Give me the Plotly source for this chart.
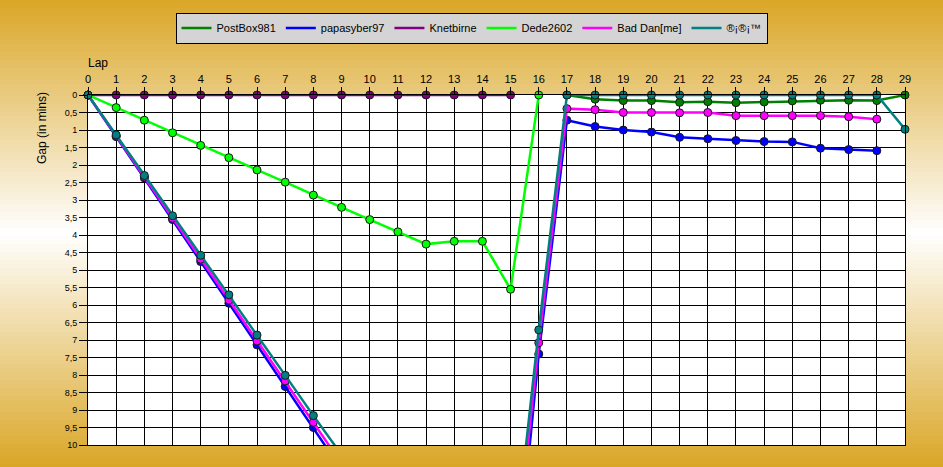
import plotly.graph_objects as go

laps = list(range(0, 30))

postbox981 = [None]*17 + [0, 0.12, 0.16, 0.16, 0.21, 0.19, 0.22, 0.20, 0.17, 0.15, 0.15, 0.16, 0]
papasyber97 = [0, 1.19, 2.37, 3.56, 4.76, 5.95, 7.14, 8.33, 9.50, 10.7, 11.9, 12.9, 13.7, 14.4, 15.0, 15.5, 7.40,
               0.72, 0.90, 1.00, 1.06, 1.21, 1.25, 1.30, 1.33, 1.34, 1.52, 1.56, 1.59, None]
knetbirne = [0]*16 + [None]*14
dede2602 = [0, 0.36, 0.72, 1.08, 1.44, 1.79, 2.14, 2.49, 2.86, 3.21, 3.56, 3.91, 4.26, 4.18, 4.18, 5.55, 0] + [None]*13
baddan = [0, 1.17, 2.34, 3.52, 4.69, 5.86, 7.03, 8.17, 9.35, 10.52, 11.7, 12.5, 13.1, 13.6, 14.1, 14.6, 7.08,
          0.39, 0.42, 0.50, 0.50, 0.51, 0.50, 0.59, 0.59, 0.59, 0.59, 0.62, 0.69, None]
teal_series = [0, 1.14, 2.30, 3.45, 4.58, 5.71, 6.86, 8.01, 9.16, 10.3, 11.4, 12.3, 12.9, 13.4, 13.7, 14.0, 6.71,
               0, 0, 0, 0, 0, 0, 0, 0, 0, 0, 0, 0, 0.98]

series = [
    ("PostBox981", postbox981, "#008000"),
    ("papasyber97", papasyber97, "#0000FF"),
    ("Knetbirne", knetbirne, "#800080"),
    ("Dede2602", dede2602, "#00FF00"),
    ("Bad Dan[me]", baddan, "#FF00FF"),
    ("®¡®¡™", teal_series, "#008080"),
]

FONT = "Liberation Sans, Arial, sans-serif"

fig = go.Figure()
for name, vals, col in series:
    fig.add_trace(go.Scatter(
        x=laps, y=vals, mode="lines+markers", name=name, showlegend=False,
        line=dict(color=col, width=2.5),
        marker=dict(size=8, color=col, line=dict(color="#1a1a1a", width=1)),
        cliponaxis=False, connectgaps=False,
    ))
for name, vals, col in series:
    fig.add_trace(go.Scatter(
        x=[None], y=[None], mode="lines", name=name, showlegend=True,
        line=dict(color=col, width=2.5),
    ))

# geometry in pixels
W, H = 943, 467
L, R, T, B = 88, 38, 95, 22
pw, ph = W - L - R, H - T - B

def px_to_xp(px):
    return (px - L) / pw

def py_to_yp(py):
    return (H - B - py) / ph

gold = (218, 166, 38)
shapes = []
step = 4
for row in range(0, H, step):
    t = (row + step / 2) / H
    w = max(0.0, 1 - abs(t - 0.5) * 2)
    c = tuple(int(round(g * (1 - w) + 255 * w)) for g in gold)
    shapes.append(dict(
        type="rect", xref="paper", yref="paper", layer="below",
        x0=px_to_xp(-2), x1=px_to_xp(W + 2),
        y0=py_to_yp(row + step + 1), y1=py_to_yp(row),
        fillcolor="rgb(%d,%d,%d)" % c, line=dict(width=0),
    ))
shapes.append(dict(type="rect", xref="x", yref="y", layer="below",
                   x0=0, x1=29, y0=0, y1=10, fillcolor="white", line=dict(width=0)))

fig.update_layout(
    width=W, height=H,
    margin=dict(l=L, r=R, t=T, b=B, pad=0),
    paper_bgcolor="rgb(218,166,38)",
    plot_bgcolor="white",
    separators=", ",
    font=dict(family=FONT, color="black"),
    shapes=shapes,
    showlegend=True,
    legend=dict(
        orientation="h", x=px_to_xp(471.5), xanchor="center",
        y=py_to_yp(12.5), yanchor="top",
        bgcolor="#D4D4D4", bordercolor="black", borderwidth=1,
        font=dict(size=11, family=FONT, color="black"),
        itemwidth=30, tracegroupgap=0,
    ),
    annotations=[
        dict(text="Lap", xref="paper", yref="paper", x=px_to_xp(98), y=py_to_yp(63),
             showarrow=False, font=dict(size=12, family=FONT, color="black"),
             xanchor="center", yanchor="middle"),
        dict(text="Gap (in mins)", xref="paper", yref="paper", x=px_to_xp(42), y=py_to_yp(128),
             showarrow=False, textangle=-90, font=dict(size=12, family=FONT, color="black"),
             xanchor="center", yanchor="middle"),
    ],
)

fig.update_xaxes(
    range=[0, 29], side="top", dtick=1, tick0=0,
    showgrid=True, gridcolor="black", gridwidth=1,
    showline=True, linecolor="black", linewidth=1, mirror=True,
    ticks="outside", ticklen=7, tickcolor="black", tickwidth=1,
    tickfont=dict(size=11, family=FONT, color="black"),
    zeroline=False, fixedrange=True,
)
fig.update_yaxes(
    range=[10, 0], dtick=0.5, tick0=0,
    showgrid=True, gridcolor="black", gridwidth=1,
    showline=True, linecolor="black", linewidth=1, mirror=True,
    ticks="outside", ticklen=8, tickcolor="black", tickwidth=1,
    tickfont=dict(size=9, family=FONT, color="black"),
    zeroline=False, fixedrange=True,
)

fig.write_html(
    "out.html",
    config={"displayModeBar": False},
    post_script="document.body.style.margin='0';document.body.style.overflow='hidden';",
)
